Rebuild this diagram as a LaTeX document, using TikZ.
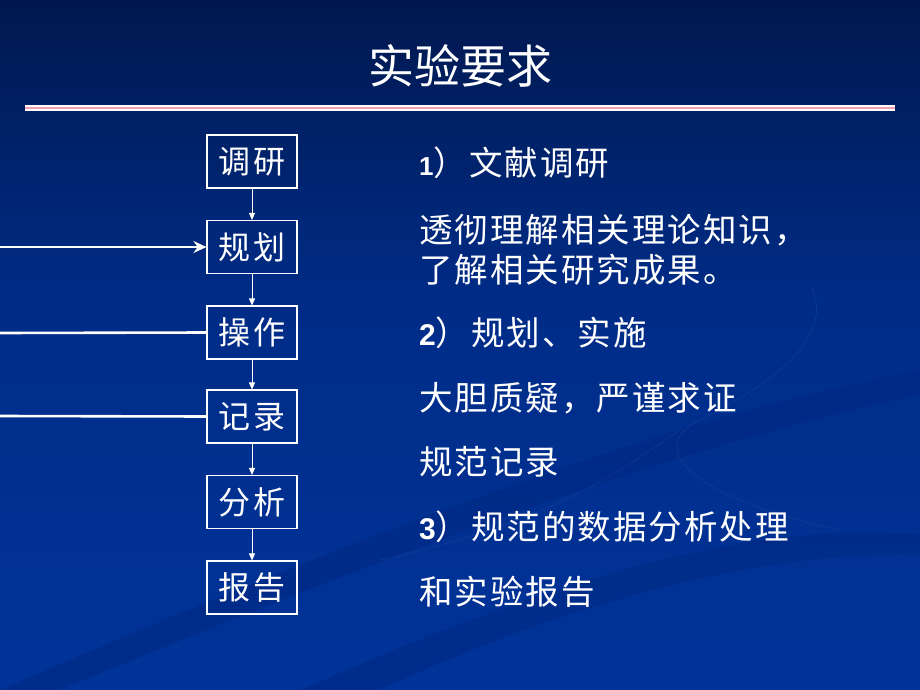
\documentclass[tikz,border=0pt]{standalone}
\usepackage{fontspec}
\setmainfont{Liberation Sans}
\newfontfamily\cjk[LetterSpace=6]{Noto Sans CJK SC}
\newfontfamily\cjkbox[LetterSpace=8]{Noto Sans CJK SC}
\newfontfamily\cjktitle{Noto Sans CJK SC}
\usetikzlibrary{arrows.meta}
\definecolor{bgtop}{RGB}{0,24,78}
\definecolor{bgmid}{RGB}{0,44,135}
\definecolor{bgbot}{RGB}{0,51,153}
\definecolor{swoosh}{RGB}{0,40,130}
\definecolor{pinkline}{RGB}{240,160,176}
\tikzset{
  stepbox/.style={draw=white, line width=1.1pt, minimum width=90pt, minimum height=53pt, inner sep=0pt, text=white, font=\cjkbox\fontsize{32}{32}\selectfont},
  bodytext/.style={anchor=west, inner sep=0pt, text=white, font=\cjk\fontsize{33.5}{33.5}\selectfont},
  flow/.style={draw=white, line width=0.9pt, -{Triangle[length=7pt,width=6pt]}},
  feed/.style={draw=white, line width=2.6pt},
  num/.style={font=\bfseries}
}
\begin{document}
\begin{tikzpicture}[x=1pt,y=-1pt]
\useasboundingbox (0,0) rectangle (920,690);
% background
\shade[top color=bgtop, bottom color=bgmid] (0,0) rectangle (920,300);
\shade[top color=bgmid, bottom color=bgbot] (0,300) rectangle (920,690);
% decorative swooshes
\fill[swoosh, opacity=0.6] (0,690) .. controls (300,560) and (650,420) .. (920,370) -- (920,395) .. controls (650,450) and (300,590) .. (60,690) -- cycle;
\fill[swoosh, opacity=0.5] (300,690) .. controls (550,580) and (750,520) .. (920,535) -- (920,555) .. controls (750,550) and (550,610) .. (380,690) -- cycle;
\draw[swoosh!70!white, opacity=0.25, line width=0.5pt] (810,285) .. controls (840,340) and (760,390) .. (700,420) .. controls (640,450) and (700,500) .. (840,530);
\draw[swoosh!70!white, opacity=0.25, line width=0.5pt] (680,430) .. controls (620,470) and (560,520) .. (380,560);
% title
\node[text=white, font=\cjktitle\fontsize{46}{46}\selectfont] (title) at (460,66) {实验要求};
% title rule
\fill[white] (25,105) rectangle (895,111);
\fill[pinkline] (25,107) rectangle (895,109.2);
% boxes
\node[stepbox] (b1) at (252,161.5) {调研};
\node[stepbox] (b2) at (252,247) {规划};
\node[stepbox] (b3) at (252,332.5) {操作};
\node[stepbox] (b4) at (252,416.5) {记录};
\node[stepbox] (b5) at (252,502) {分析};
\node[stepbox] (b6) at (252,587.5) {报告};
\draw[flow] (b1) -- (b2);
\draw[flow] (b2) -- (b3);
\draw[flow] (b3) -- (b4);
\draw[flow] (b4) -- (b5);
\draw[flow] (b5) -- (b6);
% feed lines from left
\coordinate (f2) at (0,247);
\coordinate (f3) at (0,333);
\coordinate (f4) at (0,416);
\draw[feed, -{Stealth[length=13pt,width=12pt]}] (f2) -- (b2.west);
\draw[feed] (f3) -- (b3.west);
\draw[feed] (f4) -- (b4.west);
% right text
\node[bodytext] (t1) at (419,163) {{\rmfamily\bfseries\fontsize{26}{26}\selectfont 1}）文献调研};
\node[bodytext] (t2) at (419,230) {透彻理解相关理论知识，};
\node[bodytext] (t3) at (419,270) {了解相关研究成果。};
\node[bodytext] (t4) at (419,333) {{\rmfamily\bfseries\fontsize{30}{30}\selectfont 2}）规划、实施};
\node[bodytext] (t5) at (419,398) {大胆质疑，严谨求证};
\node[bodytext] (t6) at (419,462) {规范记录};
\node[bodytext] (t7) at (419,527) {{\rmfamily\bfseries\fontsize{30}{30}\selectfont 3}）规范的数据分析处理};
\node[bodytext] (t8) at (419,592) {和实验报告};
\end{tikzpicture}
\end{document}
